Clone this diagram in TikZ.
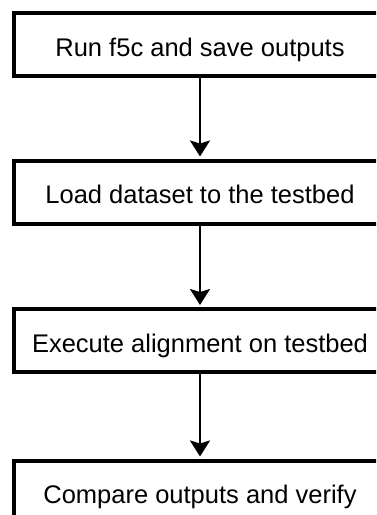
\documentclass[tikz,border=0pt]{standalone}
\usepackage{fontspec}
\setmainfont{Liberation Sans}
\usetikzlibrary{arrows.meta}
\begin{document}
\begin{tikzpicture}[x=1pt,y=-1pt,
  stepbox/.style={draw=black, line width=4pt, fill=white,
    minimum width=372pt, minimum height=63pt, inner sep=0pt,
    text height=23pt, text depth=0pt,
    font=\fontsize{25.5pt}{30pt}\selectfont},
  flow/.style={line width=2pt, shorten >=2pt,
    -{Stealth[length=16pt, width=20pt, inset=3pt]}}]
  \useasboundingbox (0,0) rectangle (376,515);
  \clip (0,0) rectangle (376,515);
  \node[stepbox] (run)     at (200,44.5)  {Run f5c and save outputs};
  \node[stepbox] (load)    at (200,192)   {Load dataset to the testbed};
  \node[stepbox] (exec)    at (200,340.5) {Execute alignment on testbed};
  \node[stepbox] (compare) at (200,492)   {Compare outputs and verify};
  \draw[flow] (run.south)  -- (load.north);
  \draw[flow] (load.south) -- (exec.north);
  \draw[flow] (exec.south) -- (compare.north);
\end{tikzpicture}
\end{document}
